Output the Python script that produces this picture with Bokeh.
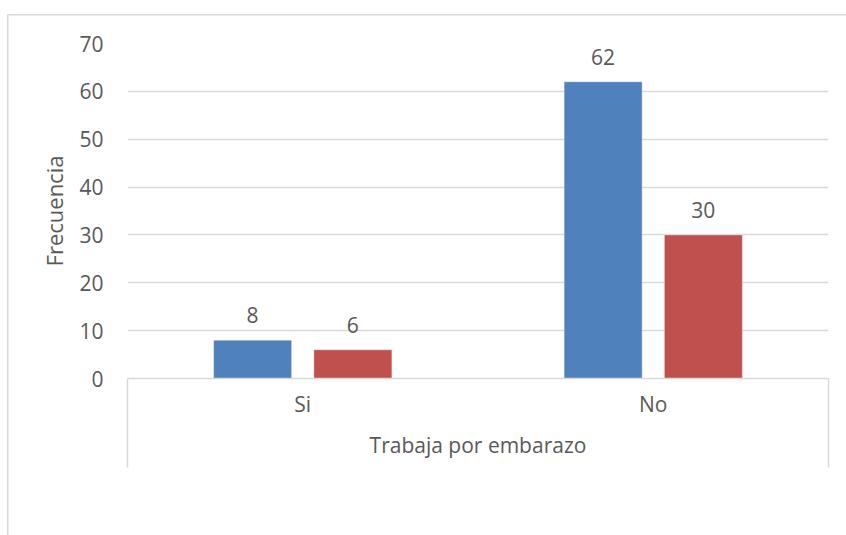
from bokeh.plotting import figure
from bokeh.models import (ColumnDataSource, FactorRange, LabelSet, Legend, LegendItem,
                          LinearAxis, FixedTicker)
from bokeh.core.properties import value
from bokeh.transform import dodge
from bokeh.embed import file_html
from bokeh.resources import INLINE

categories = ["Si", "No"]
series_names = ["ESTABLECIMIENTODE SALUD UCSFEU", "ESTABLECIMIENTODE SALUD UCSFS"]
ucsfeu = [8, 62]
ucsfs = [6, 30]
y_ticks = [0, 10, 20, 30, 40, 50, 60, 70]

FONT = "Open Sans"
TXT = "#595959"
GRID = "#D9D9D9"
BLUE = "#4F81BD"
RED = "#C0504D"

src = ColumnDataSource(dict(
    cat=categories, a=ucsfeu, b=ucsfs,
    a_lbl=[str(v) for v in ucsfeu], b_lbl=[str(v) for v in ucsfs],
))

p = figure(frame_width=701, frame_height=335, output_backend="svg", toolbar_location=None,
           x_range=FactorRange(factors=categories, range_padding=0),
           y_range=(0, 70), x_axis_location=None,
           min_border_left=127, min_border_right=18, min_border_top=43,
           min_border_bottom=0)
p.outline_line_color = None
p.border_fill_color = None
p.background_fill_color = "white"
# outer chart border (left and top edges), drawn behind the transparent canvas border
p.styles = {
    "background-color": "white",
    "background-image": "linear-gradient(#D9D9D9, #D9D9D9), linear-gradient(#D9D9D9, #D9D9D9)",
    "background-size": "1.5px 100%, 100% 1.5px",
    "background-position": "7px 14px, 7px 14px",
    "background-repeat": "no-repeat",
}

OFF, BW = 0.143, 0.2225
r1 = p.vbar(x=dodge("cat", -OFF, range=p.x_range), top="a", width=BW, source=src,
            fill_color=BLUE, line_color="white", line_alpha=0.35, line_width=1)
r2 = p.vbar(x=dodge("cat", OFF, range=p.x_range), top="b", width=BW, source=src,
            fill_color=RED, line_color="white", line_alpha=0.35, line_width=1)

for col, lbl, off in (("a", "a_lbl", -OFF), ("b", "b_lbl", OFF)):
    p.add_layout(LabelSet(x=dodge("cat", off, range=p.x_range), y=col, text=lbl,
                          source=src, y_offset=17, text_align="center",
                          text_baseline="alphabetic", text_font=value(FONT),
                          text_font_size="21px", text_color=TXT))

# y axis
yax = p.yaxis[0]
yax.ticker = y_ticks
yax.axis_line_color = None
yax.major_tick_line_color = None
yax.minor_tick_line_color = None
yax.major_label_standoff = 18
yax.major_label_text_font = FONT
yax.major_label_text_font_size = "21px"
yax.major_label_text_color = TXT
yax.axis_label = "Frecuencia"
yax.axis_label_text_font = FONT
yax.axis_label_text_font_size = "22px"
yax.axis_label_text_font_style = "normal"
yax.axis_label_text_color = TXT
yax.axis_label_standoff = 7

p.ygrid.grid_line_color = GRID
p.ygrid.grid_line_width = 1.5
for g in p.xgrid:
    g.visible = False

# x axis on the categories' synthetic coordinates: labels at the category centres,
# long "minor" ticks at the outer category boundaries draw the box sides
n = len(categories)
TICK_OUT = 89
xax = LinearAxis(ticker=FixedTicker(ticks=[i + 0.5 for i in range(n)], minor_ticks=[0, n]),
                 major_label_overrides={i + 0.5: c for i, c in enumerate(categories)})
xax.axis_line_color = GRID
xax.axis_line_width = 1.5
xax.major_tick_line_color = None
xax.minor_tick_line_color = GRID
xax.minor_tick_line_width = 1.5
xax.minor_tick_in = 0
xax.minor_tick_out = TICK_OUT
xax.major_tick_in = 0
xax.major_tick_out = 0
xax.major_label_standoff = 11 - TICK_OUT
xax.major_label_text_font = FONT
xax.major_label_text_font_size = "21px"
xax.major_label_text_color = TXT
xax.axis_label = "Trabaja por embarazo"
xax.axis_label_text_font = FONT
xax.axis_label_text_font_size = "21px"
xax.axis_label_text_font_style = "normal"
xax.axis_label_text_color = TXT
xax.axis_label_standoff = 10
p.add_layout(xax, "below")

M = 11
legend = Legend(items=[LegendItem(label=series_names[0], renderers=[r1]),
                       LegendItem(label=series_names[1], renderers=[r2])],
                orientation="horizontal", location=(-70, 0),
                padding=0, margin=M, spacing=11, label_standoff=6,
                glyph_width=15, glyph_height=15,
                label_text_font=FONT, label_text_font_size="21px",
                label_text_color=TXT, background_fill_alpha=0,
                border_line_color=None)
p.add_layout(legend, "below")

open("out.html", "w").write(file_html(p, INLINE))
